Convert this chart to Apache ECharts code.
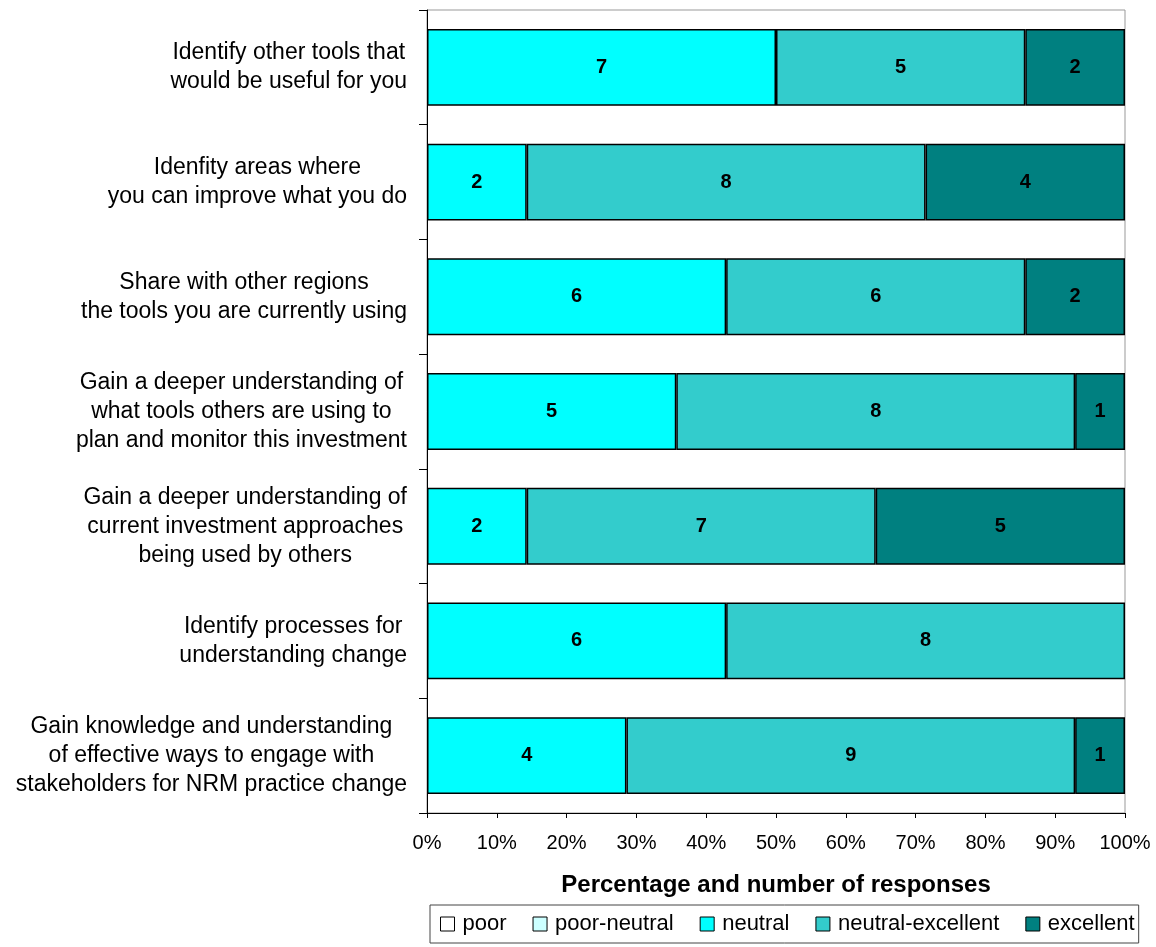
<!DOCTYPE html>
<html><head><meta charset="utf-8">
<script src="https://cdn.jsdelivr.net/npm/echarts@6/dist/echarts.min.js"></script>
<style>html,body{margin:0;padding:0;background:#fff}#c{width:1156px;height:947px}</style>
</head><body><div id="c"></div>
<script>
const categories = [
  "Identify other tools that\nwould be useful for you",
  "Idenfity areas where\nyou can improve what you do",
  "Share with other regions\nthe tools you are currently using",
  "Gain a deeper understanding of\nwhat tools others are using to\nplan and monitor this investment",
  "Gain a deeper understanding of\ncurrent investment approaches\nbeing used by others",
  "Identify processes for\nunderstanding change",
  "Gain knowledge and understanding\nof effective ways to engage with\nstakeholders for NRM practice change"
];
const seriesNames = ["poor", "poor-neutral", "neutral", "neutral-excellent", "excellent"];
const poor = [0, 0, 0, 0, 0, 0, 0];
const poorNeutral = [0, 0, 0, 0, 0, 0, 0];
const neutral = [7, 2, 6, 5, 2, 6, 4];
const neutralExcellent = [5, 8, 6, 8, 7, 8, 9];
const excellent = [2, 4, 2, 1, 5, 0, 1];
const xTicks = ["0%","10%","20%","30%","40%","50%","60%","70%","80%","90%","100%"];
const colors = ["#FFFFFF", "#CCFFFF", "#00FFFF", "#33CCCC", "#008080"];

const FONT = 'Liberation Sans, Arial, sans-serif';
const counts = [poor, poorNeutral, neutral, neutralExcellent, excellent];
const totals = categories.map((_, i) => counts.reduce((s, a) => s + a[i], 0));

const series = counts.map((arr, k) => ({
  name: seriesNames[k],
  type: 'bar',
  stack: 'total',
  barWidth: '67%',
  itemStyle: { color: colors[k], borderColor: '#000', borderWidth: 1.5 },
  label: {
    show: true, position: 'inside', color: '#000', fontWeight: 'bold',
    fontFamily: FONT, fontSize: 20,
    formatter: p => arr[p.dataIndex] ? String(arr[p.dataIndex]) : ''
  },
  data: arr.map((v, i) => v ? v / totals[i] * 100 : null)
}));

const chart = echarts.init(document.getElementById('c'), null, { renderer: 'canvas' });
chart.setOption({
  animation: false,
  textStyle: { fontFamily: FONT },
  grid: { left: 427, right: 31, top: 10, bottom: 134, show: true, borderColor: '#999', borderWidth: 1 },
  xAxis: {
    type: 'value', min: 0, max: 100, interval: 10,
    name: 'Percentage and number of responses', nameLocation: 'middle', nameGap: 60,
    nameTextStyle: { fontWeight: 'bold', fontSize: 24, color: '#000', fontFamily: FONT },
    axisLine: { show: true, lineStyle: { color: '#000', width: 1 } },
    axisTick: { show: true, length: 5, lineStyle: { color: '#000' } },
    axisLabel: { color: '#000', fontSize: 20, margin: 20, fontFamily: FONT, formatter: v => xTicks[Math.round(v / 10)] },
    splitLine: { show: false }
  },
  yAxis: {
    type: 'category', data: categories, inverse: true,
    axisLine: { show: true, lineStyle: { color: '#000', width: 1 } },
    axisTick: { show: true, length: 8, lineStyle: { color: '#000' } },
    axisLabel: {
      color: '#000', fontSize: 23, margin: 20, align: 'right', lineHeight: 29,
      formatter: v => v.split('\n').map(l => '{c|' + l + '}').join('\n'),
      rich: { c: { align: 'center', fontSize: 23, lineHeight: 29, color: '#000', fontFamily: FONT } }
    }
  },
  legend: {
    bottom: 4, left: 430,
    orient: 'horizontal',
    data: seriesNames,
    icon: 'rect', itemWidth: 14, itemHeight: 14, itemGap: 26,
    borderColor: '#444', borderWidth: 1, padding: [8, 4, 8, 10],
    textStyle: { fontSize: 22, color: '#000', fontFamily: FONT, padding: [0, 0, 0, 3] },
    itemStyle: { borderColor: '#000', borderWidth: 1 }
  },
  series: series
});
</script></body></html>
